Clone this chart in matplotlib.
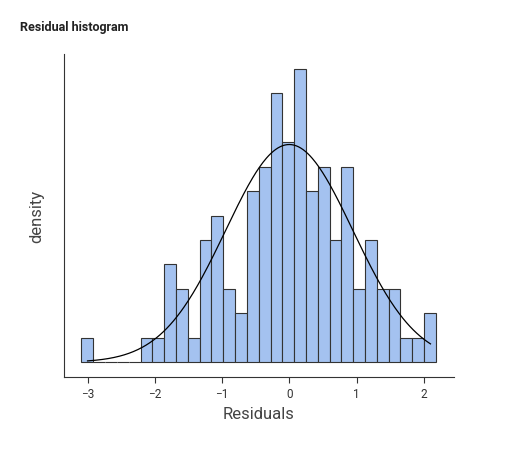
import numpy as np
import matplotlib
matplotlib.use("Agg")
import matplotlib.pyplot as plt

plt.rcParams['font.family'] = ['Roboto', 'DejaVu Sans']

# histogram of residuals: bin edges and counts
bin_start = -3.09
bin_width = 0.1757
counts = [1, 0, 0, 0, 0, 1, 1, 4, 3, 1, 5, 6, 3, 2, 7, 8, 11, 9, 12, 7,
          8, 5, 8, 3, 5, 3, 3, 1, 1, 2]
curve_mean = 0.0
curve_sd = 0.945
curve_range = (-3.0, 2.1)

counts = np.array(counts, dtype=float)
n = counts.sum()
edges = bin_start + bin_width * np.arange(len(counts) + 1)
dens = counts / (n * bin_width)

fig = plt.figure(figsize=(5.27, 4.56), dpi=100)
ax = fig.add_axes([64 / 527, 1 - 378 / 456, 390 / 527, 323 / 456])

ax.bar(edges[:-1], dens, width=bin_width, align='edge',
       color='#a4c2f0', edgecolor='#333333', linewidth=0.8)

xs = np.linspace(curve_range[0], curve_range[1], 300)
pdf = np.exp(-0.5 * ((xs - curve_mean) / curve_sd) ** 2) / (curve_sd * np.sqrt(2 * np.pi))
ax.plot(xs, pdf, color='black', linewidth=0.9)

ax.set_xlim(-3.35, 2.45)
top = dens.max()
ax.set_ylim(-top * 0.05, top * 1.05)
ax.set_xticks([-3, -2, -1, 0, 1, 2])
ax.set_yticks([])
ax.tick_params(axis='x', labelsize=8.5, colors='#333333', length=4)
for side in ['top', 'right']:
    ax.spines[side].set_visible(False)
ax.spines['left'].set_color('#333333')
ax.spines['bottom'].set_color('#333333')
ax.set_xlabel('Residuals', fontsize=12, color='#444444')
ax.set_ylabel('density', fontsize=12, color='#444444', labelpad=14)

fig.text(20 / 527, 1 - 28 / 456, 'Residual histogram', fontsize=9,
         fontweight='bold', color='#222222', va='center')

fig.savefig('out.png', dpi=100)
